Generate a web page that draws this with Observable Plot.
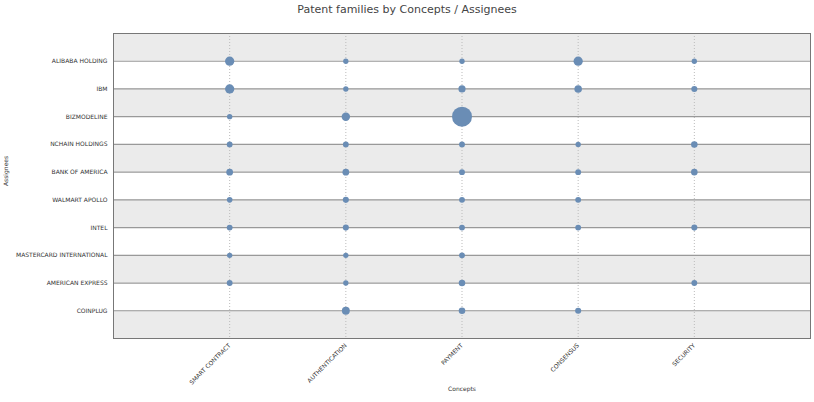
<!DOCTYPE html>
<html><head>
<script src="https://cdn.jsdelivr.net/npm/d3@7"></script>
<script src="https://cdn.jsdelivr.net/npm/@observablehq/plot@0.6"></script>
<style>
body{margin:0;background:#fff;font-family:"DejaVu Sans",sans-serif}
h1{font-size:11px;font-weight:normal;color:#444;text-align:center;margin:3px 0 0 0;height:15px}
</style>
</head><body>
<h1>Patent families by Concepts / Assignees</h1>
<div id="chart"></div>
<script>
const concepts = ["SMART CONTRACT", "AUTHENTICATION", "PAYMENT", "CONSENSUS", "SECURITY"]
const assignees = ["ALIBABA HOLDING", "IBM", "BIZMODELINE", "NCHAIN HOLDINGS", "BANK OF AMERICA",
  "WALMART APOLLO", "INTEL", "MASTERCARD INTERNATIONAL", "AMERICAN EXPRESS", "COINPLUG"]
// counts per assignee, in concept order (0 = no point)
const counts = [
  [3, 1, 1, 3, 1],
  [3, 1, 1.8, 2, 1.3],
  [1, 2.5, 14, 0, 0],
  [1.2, 1.2, 1.2, 1, 1.5],
  [1.6, 1.6, 1.2, 1.2, 1.5],
  [1.1, 1.3, 1.2, 1.2, 0],
  [1.2, 1.3, 1.2, 1.2, 1.3],
  [1, 1, 1.2, 0, 0],
  [1.2, 1, 1.5, 0, 1.2],
  [0, 2.2, 1.5, 1.3, 0]
]
const data = []
counts.forEach((row, i) => row.forEach((v, j) => { if (v > 0) data.push({a: i, c: j + 1, v}) }))
const bands = d3.range(-1, 10, 2).map(b => ({y1: b, y2: b + 1}))

const chart = Plot.plot({
  width: 814, height: 375,
  marginLeft: 113, marginRight: 4, marginTop: 15, marginBottom: 55,
  style: {fontFamily: "DejaVu Sans", fontSize: "6px", color: "#333"},
  x: {domain: [0, 6], label: null},
  y: {domain: [10, -1], label: null},
  r: {type: "sqrt", domain: [0, 14], range: [0, 10]},
  marks: [
    Plot.rectY(bands, {x1: 0, x2: 6, y1: "y1", y2: "y2", fill: "#ebebeb"}),
    Plot.ruleX([1, 2, 3, 4, 5], {stroke: "#bbb", strokeDasharray: "1,2"}),
    Plot.ruleY(d3.range(10), {stroke: "#999", strokeWidth: 1.2}),
    Plot.frame({stroke: "#777"}),
    Plot.axisX({ticks: [1, 2, 3, 4, 5], tickFormat: d => concepts[d - 1], tickRotate: -45, textAnchor: "end", tickSize: 0, tickPadding: 6, label: null}),
    Plot.axisY({ticks: d3.range(10), tickFormat: d => assignees[d], tickSize: 0, tickPadding: 6, label: null}),
    Plot.dot(data, {x: "c", y: "a", r: "v", fill: "#6a8db5"}),
    Plot.text(["Concepts"], {frameAnchor: "bottom", dy: 52, fontSize: 6}),
    Plot.text(["Assignees"], {frameAnchor: "left", dx: -107, rotate: -90, fontSize: 6})
  ]
})
d3.select("#chart").append(() => chart)
</script>
</body></html>
